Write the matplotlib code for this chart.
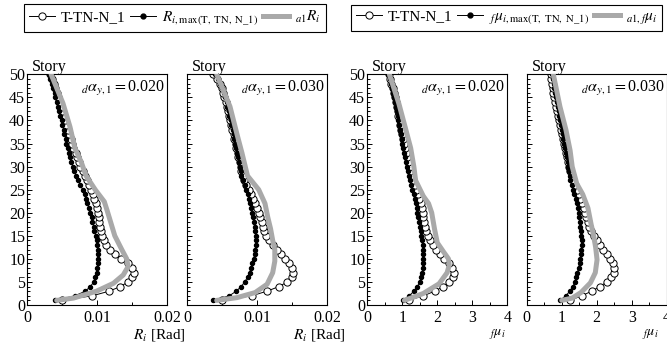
import matplotlib
matplotlib.use("Agg")
import matplotlib.pyplot as plt
from matplotlib.lines import Line2D
from matplotlib.ticker import MultipleLocator

plt.rcParams['font.family'] = ['Liberation Serif', 'DejaVu Serif']
plt.rcParams['mathtext.fontset'] = 'stix'

# --- data ---
story = list(range(1, 51))

# story drift angle R_i [Rad], dalpha_y1 = 0.020
r020_test = [0.0049, 0.0093, 0.0117, 0.0133, 0.0144, 0.0150, 0.0152, 0.0150, 0.0144, 0.0134,
             0.0125, 0.0118, 0.0113, 0.0110, 0.0107, 0.0105, 0.0104, 0.0103, 0.0102, 0.0101,
             0.0100, 0.0098, 0.0096, 0.0094, 0.0091, 0.0088, 0.0085, 0.0082, 0.0079, 0.0076,
             0.0074, 0.0071, 0.0069, 0.0066, 0.0064, 0.0062, 0.0060, 0.0058, 0.0056, 0.0054,
             0.0052, 0.0050, 0.0048, 0.0046, 0.0044, 0.0042, 0.0040, 0.0038, 0.0036, 0.0033]
r020_max = [0.0040, 0.0068, 0.0083, 0.0090, 0.0095, 0.0097, 0.0099, 0.0100, 0.0101, 0.0101,
            0.0101, 0.0101, 0.0100, 0.0099, 0.0098, 0.0096, 0.0095, 0.0093, 0.0092, 0.0090,
            0.0088, 0.0086, 0.0084, 0.0082, 0.0079, 0.0076, 0.0073, 0.0070, 0.0067, 0.0065,
            0.0063, 0.0061, 0.0059, 0.0058, 0.0056, 0.0055, 0.0053, 0.0052, 0.0050, 0.0049,
            0.0047, 0.0045, 0.0044, 0.0042, 0.0040, 0.0039, 0.0037, 0.0035, 0.0033, 0.0031]
r020_a1_story = [1, 1.5, 3, 4.7, 6.5, 8.3, 10, 12, 15, 17, 20.5, 22.4, 25, 28, 31, 34, 38.6, 43.7, 50]
r020_a1 = [0.0042, 0.0066, 0.0099, 0.0123, 0.0137, 0.0144, 0.0142, 0.0135, 0.0125, 0.0121,
           0.0114, 0.0110, 0.0097, 0.0084, 0.0077, 0.0068, 0.0061, 0.0051, 0.0034]

# dalpha_y1 = 0.030
r030_test = [0.0050, 0.0092, 0.0114, 0.0131, 0.0143, 0.0149, 0.0151, 0.0149, 0.0145, 0.0140,
             0.0134, 0.0128, 0.0122, 0.0117, 0.0113, 0.0110, 0.0108, 0.0106, 0.0104, 0.0102,
             0.0100, 0.0097, 0.0094, 0.0091, 0.0088, 0.0084, 0.0081, 0.0079, 0.0077, 0.0076,
             0.0075, 0.0073, 0.0072, 0.0070, 0.0069, 0.0067, 0.0066, 0.0064, 0.0063, 0.0061,
             0.0060, 0.0058, 0.0056, 0.0055, 0.0053, 0.0051, 0.0049, 0.0046, 0.0042, 0.0037]
r030_max = [0.0037, 0.0060, 0.0070, 0.0077, 0.0082, 0.0086, 0.0089, 0.0091, 0.0093, 0.0095,
            0.0096, 0.0097, 0.0098, 0.0098, 0.0098, 0.0097, 0.0096, 0.0095, 0.0094, 0.0093,
            0.0091, 0.0090, 0.0088, 0.0086, 0.0084, 0.0082, 0.0079, 0.0077, 0.0076, 0.0075,
            0.0074, 0.0072, 0.0071, 0.0070, 0.0068, 0.0067, 0.0066, 0.0065, 0.0063, 0.0062,
            0.0060, 0.0059, 0.0057, 0.0056, 0.0054, 0.0052, 0.0050, 0.0047, 0.0044, 0.0039]
r030_a1_story = [1, 1.6, 2.7, 4.5, 7, 9.5, 12, 14, 16.5, 19, 22, 25, 28, 33, 37, 43, 50]
r030_a1 = [0.0042, 0.0071, 0.0097, 0.0114, 0.0122, 0.0125, 0.0125, 0.0122, 0.0119, 0.0115,
           0.0111, 0.0102, 0.0086, 0.0078, 0.0071, 0.0061, 0.0042]

# ductility factor f_mu_i, dalpha_y1 = 0.020
m020_test = [1.18, 1.60, 1.93, 2.17, 2.34, 2.44, 2.47, 2.42, 2.32, 2.20,
             2.08, 1.97, 1.88, 1.80, 1.74, 1.69, 1.65, 1.62, 1.60, 1.58,
             1.55, 1.52, 1.48, 1.44, 1.40, 1.35, 1.31, 1.27, 1.23, 1.19,
             1.16, 1.13, 1.10, 1.07, 1.04, 1.02, 0.99, 0.97, 0.94, 0.92,
             0.89, 0.87, 0.84, 0.81, 0.79, 0.76, 0.73, 0.69, 0.66, 0.62]
m020_max = [1.01, 1.20, 1.33, 1.43, 1.50, 1.54, 1.57, 1.59, 1.60, 1.60,
            1.60, 1.59, 1.58, 1.56, 1.54, 1.52, 1.50, 1.48, 1.46, 1.43,
            1.41, 1.38, 1.35, 1.32, 1.29, 1.25, 1.22, 1.19, 1.16, 1.12,
            1.10, 1.07, 1.05, 1.03, 1.00, 0.98, 0.96, 0.93, 0.91, 0.89,
            0.87, 0.85, 0.82, 0.80, 0.77, 0.74, 0.71, 0.68, 0.64, 0.60]
m020_a1_story = [1, 2.5, 4.6, 7, 8.6, 10, 11.5, 13.5, 16.5, 20, 22, 23.6, 27, 30, 34, 38.6, 43.7, 50]
m020_a1 = [1.06, 1.60, 2.05, 2.28, 2.34, 2.32, 2.18, 2.00, 1.92, 1.84,
           1.75, 1.60, 1.38, 1.33, 1.24, 1.08, 0.90, 0.63]

# dalpha_y1 = 0.030
m030_test = [1.24, 1.57, 1.86, 2.09, 2.29, 2.42, 2.48, 2.49, 2.46, 2.39,
             2.29, 2.19, 2.09, 2.00, 1.92, 1.85, 1.79, 1.74, 1.70, 1.67,
             1.63, 1.58, 1.53, 1.48, 1.43, 1.38, 1.33, 1.28, 1.24, 1.21,
             1.18, 1.15, 1.12, 1.09, 1.06, 1.03, 1.00, 0.97, 0.94, 0.91,
             0.88, 0.86, 0.83, 0.80, 0.78, 0.76, 0.74, 0.72, 0.70, 0.68]
m030_max = [0.95, 1.12, 1.23, 1.32, 1.38, 1.42, 1.45, 1.48, 1.51, 1.53,
            1.55, 1.56, 1.57, 1.57, 1.56, 1.55, 1.53, 1.51, 1.50, 1.48,
            1.46, 1.43, 1.40, 1.36, 1.32, 1.28, 1.25, 1.23, 1.21, 1.19,
            1.17, 1.15, 1.12, 1.10, 1.07, 1.05, 1.03, 1.00, 0.98, 0.95,
            0.93, 0.91, 0.88, 0.86, 0.84, 0.81, 0.79, 0.77, 0.74, 0.71]
m030_a1_story = [1, 1.5, 2.7, 4.8, 7, 9.8, 12.5, 15.5, 17.5, 21, 24, 26.3, 30, 33.5, 38, 43, 50]
m030_a1 = [1.00, 1.30, 1.55, 1.82, 1.96, 2.01, 1.97, 1.90, 1.84, 1.75,
           1.60, 1.43, 1.30, 1.24, 1.12, 0.95, 0.76]

alpha_labels = ['0.020', '0.030', '0.020', '0.030']

GRAY = '#a9a9a9'

fig = plt.figure(figsize=(6.67, 3.43), dpi=100)

W, H = 667.0, 343.0
lefts = [27.3, 187.3, 367.3, 526.7]
ax_bottom = (H - 305) / H
ax_h = 230.7 / H
ax_w = 140 / W

panels = [
    (r020_test, r020_max, r020_a1_story, r020_a1, 'R'),
    (r030_test, r030_max, r030_a1_story, r030_a1, 'R'),
    (m020_test, m020_max, m020_a1_story, m020_a1, 'mu'),
    (m030_test, m030_max, m030_a1_story, m030_a1, 'mu'),
]

for k, (test, rmax, a1_story, a1, kind) in enumerate(panels):
    ax = fig.add_axes([lefts[k] / W, ax_bottom, ax_w, ax_h])

    ax.plot(test, story, color='black', lw=0.7, marker='o', ms=5.2,
            mfc='white', mec='black', mew=0.7, zorder=2)
    ax.plot(rmax, story, color='black', lw=0.7, marker='o', ms=2.9,
            mfc='black', mec='black', zorder=3)
    ax.plot(a1, a1_story, color=GRAY, lw=3.6, solid_capstyle='round',
            solid_joinstyle='round', zorder=4)

    ax.set_ylim(0, 50)
    ax.yaxis.set_major_locator(MultipleLocator(5))
    ax.yaxis.set_minor_locator(MultipleLocator(1))
    if kind == 'R':
        ax.set_xlim(0, 0.02)
        ax.xaxis.set_major_locator(MultipleLocator(0.01))
        ax.xaxis.set_minor_locator(MultipleLocator(0.005))
        ax.xaxis.set_major_formatter(plt.FuncFormatter(
            lambda v, p: '0' if abs(v) < 1e-9 else '%.2f' % v))
    else:
        ax.set_xlim(0, 4)
        ax.xaxis.set_major_locator(MultipleLocator(1))
        ax.xaxis.set_minor_locator(MultipleLocator(0.5))
        ax.xaxis.set_major_formatter(plt.FuncFormatter(lambda v, p: '%d' % round(v)))

    ax.tick_params(which='both', direction='in', top=False, right=False,
                   labelsize=11.5, width=0.7)
    ax.tick_params(which='major', length=3.5)
    ax.tick_params(which='minor', length=2)
    ax.tick_params(axis='y', pad=1.5)
    ax.tick_params(axis='x', pad=3.5)
    if k in (1, 3):
        ax.set_yticklabels([])
    for sp in ax.spines.values():
        sp.set_linewidth(0.8)

    ax.text(0.035, 1.015, 'Story', transform=ax.transAxes, ha='left',
            va='baseline', fontsize=11.5)
    ax.text(0.985, 0.94, r'${}_{d}\alpha_{y,1}=$' + alpha_labels[k],
            transform=ax.transAxes, ha='right', va='center', fontsize=11.5)
    if kind == 'R':
        ax.text(0.94, -0.13, r'$R_i$ [Rad]', transform=ax.transAxes,
                ha='center', va='center', fontsize=11)
    else:
        xl = 0.93 if k == 2 else 0.88
        ax.text(xl, -0.13, r'${}_f\mu_i$', transform=ax.transAxes,
                ha='center', va='center', fontsize=10)

# --- legends ---
h_test = Line2D([], [], color='black', lw=0.7, marker='o', ms=5.2, mfc='white', mew=0.7)
h_max = Line2D([], [], color='black', lw=0.7, marker='o', ms=3.5, mfc='black')
h_a1 = Line2D([], [], color=GRAY, lw=3.6)

leg_kw = dict(ncol=3, loc='center', fontsize=11, frameon=True, fancybox=False,
              edgecolor='black', framealpha=1, handlelength=1.7, handletextpad=0.4,
              columnspacing=0.3, borderpad=0.3, borderaxespad=0)

leg1 = fig.legend([h_test, h_max, h_a1],
                  ['T-TN-N_1', r'$R_{i,\mathrm{max(T,\ TN,\ N\_1)}}$', r'${}_{a1}R_i$'],
                  bbox_to_anchor=(175 / W, 1 - 18 / H), **leg_kw)
leg1.get_frame().set_linewidth(0.8)
leg2 = fig.legend([h_test, h_max, h_a1],
                  ['T-TN-N_1', r'${}_f\mu_{i,\mathrm{max(T,\ TN,\ N\_1)}}$', r'${}_{a1,f}\mu_i$'],
                  bbox_to_anchor=(506.5 / W, 1 - 18 / H), **leg_kw)
leg2.get_frame().set_linewidth(0.8)

fig.savefig('out.png', dpi=100)
